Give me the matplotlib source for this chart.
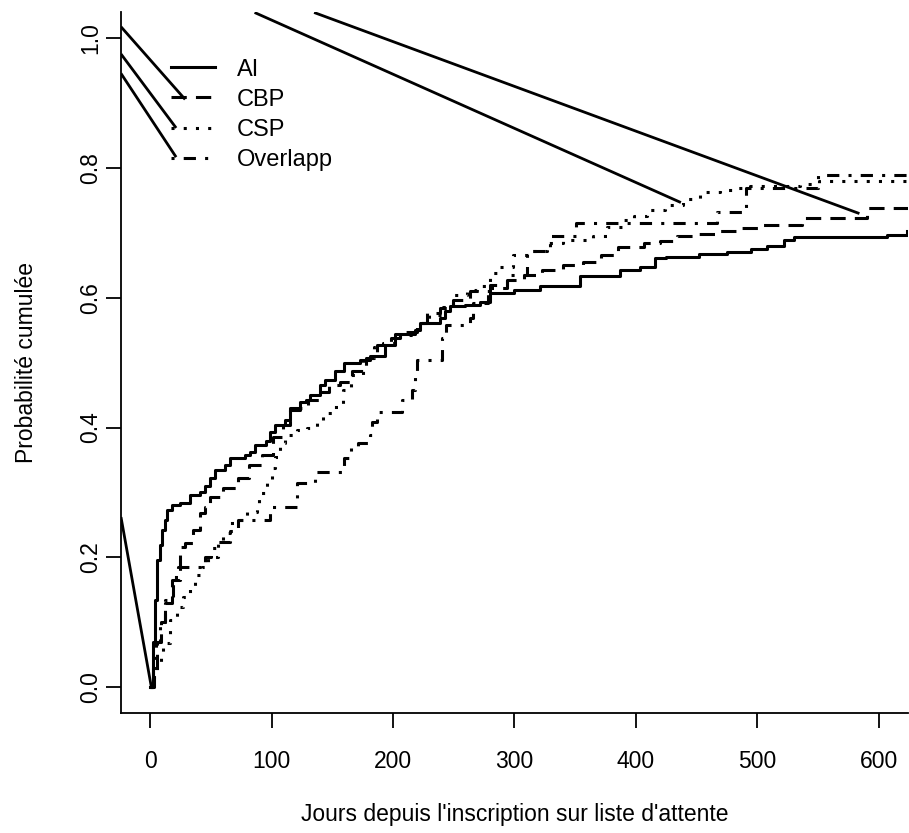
import numpy as np
import matplotlib
matplotlib.use('Agg')
import matplotlib.pyplot as plt

plt.rcParams['font.family'] = ['Liberation Sans', 'DejaVu Sans']

# cumulative probability step curves (days, value)
ai_t = [0, 2, 4, 6, 8, 10, 12, 14, 18, 25,
        33, 41, 45, 49, 53, 62, 66, 78, 82, 86,
        95, 99, 103, 111, 115, 123, 128, 132, 140, 144,
        152, 160, 173, 181, 193, 202, 218, 222, 239, 243,
        247, 259, 272, 280, 300, 321, 354, 387, 403, 416,
        425, 452, 475, 495, 508, 522, 530, 607, 623]
ai_y = [0, 0.07, 0.134, 0.196, 0.219, 0.242, 0.257, 0.273, 0.28, 0.283,
        0.296, 0.30, 0.31, 0.322, 0.334, 0.342, 0.353, 0.357, 0.362, 0.373,
        0.38, 0.393, 0.404, 0.411, 0.427, 0.439, 0.442, 0.45, 0.465, 0.473,
        0.488, 0.499, 0.504, 0.511, 0.527, 0.545, 0.55, 0.562, 0.569, 0.579,
        0.587, 0.589, 0.593, 0.607, 0.612, 0.619, 0.633, 0.643, 0.648, 0.661,
        0.663, 0.667, 0.670, 0.676, 0.680, 0.689, 0.694, 0.697, 0.703]

cbp_t = [0, 3, 6, 9, 12, 18, 25, 29, 35, 41,
         45, 49, 60, 72, 81, 92, 101, 109, 115, 130,
         140, 147, 156, 166, 178, 187, 198, 206, 220, 228,
         239, 249, 263, 280, 294, 308, 323, 340, 356, 371,
         385, 407, 420, 434, 451, 469, 486, 502, 537, 590,
         624]
cbp_y = [0, 0.03, 0.07, 0.1, 0.13, 0.165, 0.216, 0.222, 0.242, 0.268,
         0.277, 0.293, 0.307, 0.322, 0.342, 0.357, 0.385, 0.404, 0.43, 0.442,
         0.455, 0.465, 0.47, 0.488, 0.508, 0.527, 0.538, 0.547, 0.561, 0.576,
         0.584, 0.596, 0.61, 0.62, 0.627, 0.636, 0.643, 0.65, 0.656, 0.666,
         0.678, 0.684, 0.687, 0.695, 0.698, 0.703, 0.707, 0.712, 0.723, 0.738,
         0.738]

csp_t = [0, 3, 6, 9, 11, 16, 22, 27, 33, 37,
         43, 48, 56, 60, 66, 71, 80, 88, 90, 96,
         100, 103, 107, 111, 121, 129, 137, 142, 151, 159,
         165, 175, 184, 192, 206, 220, 230, 241, 249, 261,
         269, 280, 288, 299, 313, 327, 340, 365, 376, 389,
         398, 409, 424, 439, 453, 469, 483, 494, 535, 551,
         624]
csp_y = [0, 0.015, 0.03, 0.05, 0.068, 0.103, 0.123, 0.139, 0.154, 0.173,
         0.185, 0.2, 0.226, 0.237, 0.253, 0.257, 0.27, 0.28, 0.299, 0.316,
         0.337, 0.354, 0.376, 0.388, 0.396, 0.4, 0.408, 0.422, 0.431, 0.458,
         0.481, 0.508, 0.524, 0.53, 0.542, 0.562, 0.573, 0.586, 0.604, 0.612,
         0.619, 0.639, 0.647, 0.666, 0.673, 0.684, 0.689, 0.696, 0.709, 0.72,
         0.727, 0.735, 0.743, 0.753, 0.763, 0.767, 0.770, 0.772, 0.776, 0.78,
         0.78]

ovl_t = [0, 2, 5, 8, 12, 15, 19, 23, 45, 50,
         55, 66, 72, 99, 121, 136, 160, 165, 171, 181,
         183, 187, 207, 216, 218, 220, 240, 244, 263, 266,
         278, 294, 310, 329, 351, 467, 491, 550, 624]
ovl_y = [0, 0.03, 0.07, 0.1, 0.134, 0.139, 0.17, 0.185, 0.2, 0.215,
         0.223, 0.24, 0.257, 0.277, 0.314, 0.331, 0.353, 0.37, 0.376, 0.388,
         0.408, 0.424, 0.442, 0.458, 0.478, 0.504, 0.538, 0.558, 0.569, 0.592,
         0.615, 0.635, 0.673, 0.696, 0.715, 0.732, 0.770, 0.789, 0.789]

# stray straight segments seen on the original plot (x0, y0, x1, y1)
stray_x0 = [-24, -24, -24, 86, 135, -24]
stray_y0 = [1.018, 0.976, 0.946, 1.04, 1.04, 0.262]
stray_x1 = [28.8, 21.4, 21.4, 437, 584, 1]
stray_y1 = [0.906, 0.862, 0.817, 0.747, 0.730, 0.0]

labels = ['AI', 'CBP', 'CSP', 'Overlapp']
styles = ['-', (0, (5, 3)), (0, (1, 3)), (0, (1, 3, 4, 3))]

fig = plt.figure(figsize=(9.09, 8.33), dpi=100)
ax = fig.add_axes([0.1331, 0.1441, 0.8658, 0.8409])

for i in range(len(stray_x0)):
    ax.plot([stray_x0[i], stray_x1[i]], [stray_y0[i], stray_y1[i]],
            color='black', lw=2.0, solid_capstyle='butt')

series = [(ai_t, ai_y), (cbp_t, cbp_y), (csp_t, csp_y), (ovl_t, ovl_y)]
for (t, y), lab, ls in zip(series, labels, styles):
    ax.step(t, y, where='post', color='black', lw=2.2, linestyle=ls, label=lab)

ax.set_xlim(-24, 624)
ax.set_ylim(-0.04, 1.04)
ax.set_xticks(np.arange(0, 601, 100))
ax.set_yticks(np.arange(0, 1.01, 0.2))
ax.set_yticklabels(['0.0', '0.2', '0.4', '0.6', '0.8', '1.0'])
for s in ['top', 'right']:
    ax.spines[s].set_visible(False)
for s in ['left', 'bottom']:
    ax.spines[s].set_linewidth(1.3)
ax.tick_params(axis='both', length=10.5, width=1.3, labelsize=16.5)
ax.tick_params(axis='x', pad=16)
ax.tick_params(axis='y', pad=3)
for lab in ax.get_yticklabels():
    lab.set_rotation(90)
    lab.set_va('center')

ax.set_xlabel("Jours depuis l'inscription sur liste d'attente", fontsize=16.5, labelpad=22)
ax.set_ylabel('Probabilité cumulée', fontsize=16.5, labelpad=30)

ax.legend(loc='upper left', bbox_to_anchor=(0.063, 0.934), frameon=False,
          fontsize=17, handlelength=1.9, handletextpad=0.9, labelspacing=0.34,
          borderpad=0, borderaxespad=0)

fig.savefig('out.png', dpi=100)
